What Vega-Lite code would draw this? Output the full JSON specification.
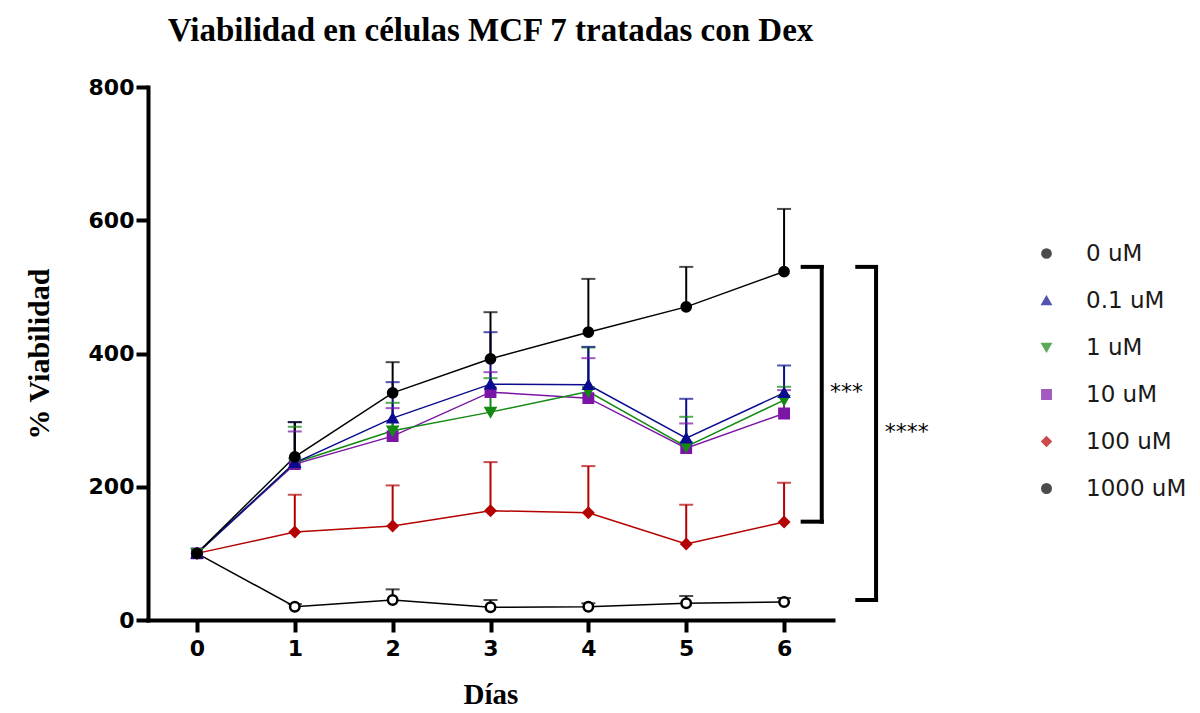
{
  "$schema": "https://vega.github.io/schema/vega-lite/v6.json",
  "autosize": "none",
  "width": 685,
  "height": 533,
  "padding": {"left": 148, "top": 87, "right": 367, "bottom": 93},
  "background": "white",
  "config": {"view": {"stroke": null}},
  "title": {
    "text": "Viabilidad en células MCF 7 tratadas con Dex",
    "font": "Liberation Serif",
    "fontSize": 33,
    "fontWeight": "bold",
    "color": "black",
    "anchor": "middle",
    "offset": 28
  },
  "datasets": {
    "viab": [
      {"dose": "1000 uM", "day": 0, "mean": 100, "top": null},
      {"dose": "1000 uM", "day": 1, "mean": 20, "top": 24},
      {"dose": "1000 uM", "day": 2, "mean": 30, "top": 46},
      {"dose": "1000 uM", "day": 3, "mean": 19, "top": 30},
      {"dose": "1000 uM", "day": 4, "mean": 20, "top": 25},
      {"dose": "1000 uM", "day": 5, "mean": 25, "top": 36},
      {"dose": "1000 uM", "day": 6, "mean": 27, "top": 33},
      {"dose": "100 uM", "day": 0, "mean": 100, "top": null},
      {"dose": "100 uM", "day": 1, "mean": 132, "top": 188},
      {"dose": "100 uM", "day": 2, "mean": 141, "top": 202},
      {"dose": "100 uM", "day": 3, "mean": 164, "top": 237},
      {"dose": "100 uM", "day": 4, "mean": 161, "top": 231},
      {"dose": "100 uM", "day": 5, "mean": 114, "top": 173},
      {"dose": "100 uM", "day": 6, "mean": 147, "top": 206},
      {"dose": "10 uM", "day": 0, "mean": 100, "top": null},
      {"dose": "10 uM", "day": 1, "mean": 234, "top": 283},
      {"dose": "10 uM", "day": 2, "mean": 276, "top": 318},
      {"dose": "10 uM", "day": 3, "mean": 342, "top": 372},
      {"dose": "10 uM", "day": 4, "mean": 333, "top": 393},
      {"dose": "10 uM", "day": 5, "mean": 258, "top": 295},
      {"dose": "10 uM", "day": 6, "mean": 310, "top": 345},
      {"dose": "1 uM", "day": 0, "mean": 100, "top": null},
      {"dose": "1 uM", "day": 1, "mean": 236, "top": 290},
      {"dose": "1 uM", "day": 2, "mean": 284, "top": 326},
      {"dose": "1 uM", "day": 3, "mean": 312, "top": 363},
      {"dose": "1 uM", "day": 4, "mean": 343, "top": 409},
      {"dose": "1 uM", "day": 5, "mean": 260, "top": 305},
      {"dose": "1 uM", "day": 6, "mean": 330, "top": 350},
      {"dose": "0.1 uM", "day": 0, "mean": 100, "top": null},
      {"dose": "0.1 uM", "day": 1, "mean": 236, "top": 297},
      {"dose": "0.1 uM", "day": 2, "mean": 303, "top": 357},
      {"dose": "0.1 uM", "day": 3, "mean": 354, "top": 432},
      {"dose": "0.1 uM", "day": 4, "mean": 353, "top": 410},
      {"dose": "0.1 uM", "day": 5, "mean": 273, "top": 332},
      {"dose": "0.1 uM", "day": 6, "mean": 341, "top": 382},
      {"dose": "0 uM", "day": 0, "mean": 100, "top": null},
      {"dose": "0 uM", "day": 1, "mean": 245, "top": 297},
      {"dose": "0 uM", "day": 2, "mean": 341, "top": 387},
      {"dose": "0 uM", "day": 3, "mean": 392, "top": 462},
      {"dose": "0 uM", "day": 4, "mean": 432, "top": 512},
      {"dose": "0 uM", "day": 5, "mean": 470, "top": 530},
      {"dose": "0 uM", "day": 6, "mean": 523, "top": 617}
    ],
    "brackets": [
      {"xa": 6.385, "xb": 6.385, "ya": 147.6, "yb": 530},
      {"xa": 6.19, "xb": 6.385, "ya": 530, "yb": 530},
      {"xa": 6.19, "xb": 6.385, "ya": 147.6, "yb": 147.6},
      {"xa": 6.94, "xb": 6.94, "ya": 30, "yb": 530},
      {"xa": 6.748, "xb": 6.94, "ya": 530, "yb": 530},
      {"xa": 6.748, "xb": 6.94, "ya": 30, "yb": 30}
    ],
    "stars": [
      {"x": 6.47, "y": 331, "label": "***"},
      {"x": 7.03, "y": 272, "label": "****"}
    ]
  },
  "encoding": {
    "x": {
      "field": "day",
      "type": "quantitative",
      "scale": {"domain": [-0.5, 6.5], "nice": false, "zero": false},
      "axis": {
        "values": [0, 1, 2, 3, 4, 5, 6],
        "format": "d",
        "title": "Días",
        "grid": false,
        "domainColor": "black",
        "domainWidth": 4,
        "domainCap": "square",
        "tickColor": "black",
        "tickWidth": 4,
        "tickSize": 12,
        "labelFont": "DejaVu Sans",
        "labelFontWeight": "bold",
        "labelFontSize": 22,
        "labelColor": "black",
        "labelPadding": 6,
        "titleFont": "Liberation Serif",
        "titleFontWeight": "bold",
        "titleFontSize": 29,
        "titleColor": "black",
        "titlePadding": 21
      }
    },
    "y": {
      "field": "mean",
      "type": "quantitative",
      "scale": {"domain": [0, 800], "nice": false},
      "axis": {
        "values": [0, 200, 400, 600, 800],
        "title": "% Viabilidad",
        "grid": false,
        "domainColor": "black",
        "domainWidth": 4,
        "domainCap": "square",
        "tickColor": "black",
        "tickWidth": 4,
        "tickSize": 12,
        "labelFont": "DejaVu Sans",
        "labelFontWeight": "bold",
        "labelFontSize": 22,
        "labelColor": "black",
        "labelPadding": 2,
        "titleFont": "Liberation Serif",
        "titleFontWeight": "bold",
        "titleFontSize": 30,
        "titleColor": "black",
        "titlePadding": 34
      }
    }
  },
  "layer": [
    {
      "data": {"name": "viab"},
      "transform": [{"filter": "datum.top != null"}],
      "mark": {"type": "rule", "strokeWidth": 2},
      "encoding": {
        "y2": {"field": "top"},
        "color": {
          "field": "dose", "type": "nominal",
          "scale": {"domain": ["0 uM", "0.1 uM", "1 uM", "10 uM", "100 uM", "1000 uM"],
                    "range": ["#000000", "#0b0b8f", "#138a13", "#7b15a6", "#b40000", "#000000"]}
        }
      }
    },
    {
      "data": {"name": "viab"},
      "transform": [{"filter": "datum.top != null"}],
      "mark": {"type": "tick", "orient": "horizontal", "size": 14, "thickness": 2},
      "encoding": {
        "y": {"field": "top", "type": "quantitative"},
        "color": {"field": "dose", "type": "nominal"}
      }
    },
    {
      "data": {"name": "viab"},
      "mark": {"type": "line", "strokeWidth": 1.5},
      "encoding": {
        "color": {"field": "dose", "type": "nominal"},
        "order": {"field": "day"}
      }
    },
    {
      "data": {"name": "viab"},
      "mark": {"type": "point", "filled": false, "opacity": 1, "fillOpacity": 1, "strokeOpacity": 1, "strokeWidth": 2.5},
      "encoding": {
        "color": {
          "field": "dose", "type": "nominal",
          "legend": {
            "title": null,
            "orient": "none",
            "legendX": 887,
            "legendY": 155,
            "padding": 0,
            "symbolOpacity": 1,
            "labelFont": "DejaVu Sans",
            "labelFontSize": 23,
            "labelColor": "#1a1a1a",
            "labelOffset": 28,
            "rowPadding": 23,
            "labelLimit": 300
          }
        },
        "shape": {
          "field": "dose", "type": "nominal",
          "scale": {"domain": ["0 uM", "0.1 uM", "1 uM", "10 uM", "100 uM", "1000 uM"],
                    "range": ["circle", "triangle-up", "triangle-down", "square", "diamond", "circle"]}
        },
        "fill": {
          "field": "dose", "type": "nominal",
          "scale": {"domain": ["0 uM", "0.1 uM", "1 uM", "10 uM", "100 uM", "1000 uM"],
                    "range": ["#000000", "#0b0b8f", "#138a13", "#7b15a6", "#b40000", "#ffffff"]}
        },
        "size": {
          "field": "dose", "type": "nominal",
          "scale": {"domain": ["0 uM", "0.1 uM", "1 uM", "10 uM", "100 uM", "1000 uM"],
                    "range": [85, 90, 90, 75, 40, 85]}
        }
      }
    },
    {
      "data": {"name": "brackets"},
      "mark": {"type": "rule", "strokeWidth": 4, "strokeCap": "square", "color": "black"},
      "encoding": {
        "x": {"field": "xa", "type": "quantitative"},
        "x2": {"field": "xb"},
        "y": {"field": "ya", "type": "quantitative"},
        "y2": {"field": "yb"}
      }
    },
    {
      "data": {"name": "stars"},
      "mark": {"type": "text", "align": "left", "baseline": "alphabetic", "font": "DejaVu Sans", "fontSize": 22, "color": "black"},
      "encoding": {
        "x": {"field": "x", "type": "quantitative"},
        "y": {"field": "y", "type": "quantitative"},
        "text": {"field": "label"}
      }
    }
  ]
}
